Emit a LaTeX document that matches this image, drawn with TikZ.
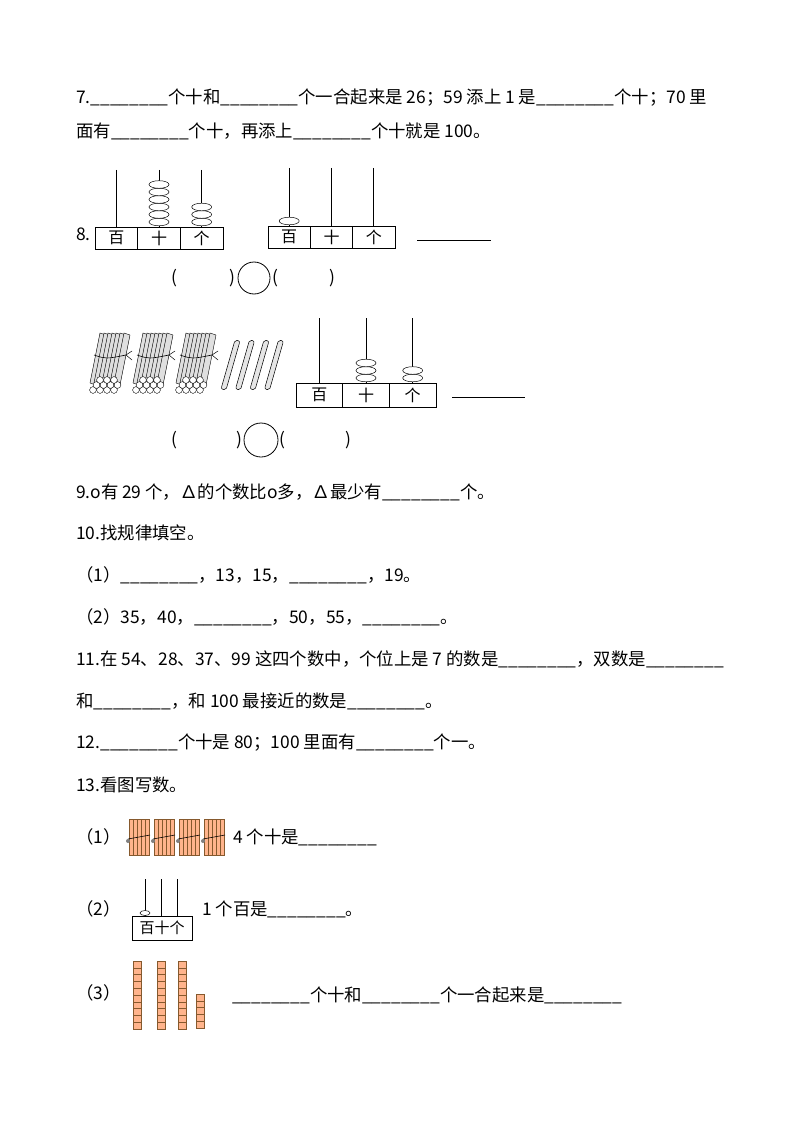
\documentclass[tikz,border=0pt]{standalone}
\usepackage{fontspec}
\setmainfont{Noto Sans CJK SC}
\begin{document}
\begin{tikzpicture}[x=1pt,y=-1pt,
  txt/.style={anchor=west,inner sep=0pt,font=\fontsize{17.4}{20}\selectfont},
  cell/.style={draw,minimum width=42pt,minimum height=22pt,inner sep=0pt,font=\fontsize{16}{18}\selectfont},
  bead/.style={draw,fill=white,line width=0.5pt},
  rod/.style={line width=0.7pt},
  orangestick/.style={draw=brown!70!black,fill=red!30!orange!45,line width=0.3pt}]
\useasboundingbox (0,0) rectangle (794,1123);
\fill[white] (0,0) rectangle (794,1123);
% question 7
\node[txt] (q7a) at (76,98) {7.\_\_\_\_\_\_\_\_个十和\_\_\_\_\_\_\_\_个一合起来是 26；59 添上 1 是\_\_\_\_\_\_\_\_个十；70 里};
\node[txt] (q7b) at (76,131) {面有\_\_\_\_\_\_\_\_个十，再添上\_\_\_\_\_\_\_\_个十就是 100。};
% question 8
\node[txt] (q8) at (76,234) {8.};
% abacus 1
\foreach \i/\t in {0/百,1/十,2/个}{\node[cell,minimum width=42.7pt] (a1\i) at (116.3+42.7*\i,238) {\t};}
\foreach \i in {0,1,2}{\draw[rod] (116.3+42.7*\i,170) -- (116.3+42.7*\i,227);}
\foreach \k in {0,...,5}{\draw[bead] (159,222-7.5*\k) ellipse (10pt and 3.8pt);}
\foreach \k in {0,...,2}{\draw[bead] (201.7,222-7.5*\k) ellipse (10pt and 3.8pt);}
% abacus 2
\foreach \i/\t in {0/百,1/十,2/个}{\node[cell,minimum width=42.3pt] (a2\i) at (289.2+42.3*\i,237) {\t};}
\foreach \i in {0,1,2}{\draw[rod] (289.2+42.3*\i,168) -- (289.2+42.3*\i,226);}
\draw[bead] (289.2,221) ellipse (10pt and 3.8pt);
\draw[line width=0.8pt] (417,240) -- (491,240);
% paren row 1
\node[txt] (p1) at (171,278) {(};
\node[txt] (p2) at (229,278) {)};
\node[draw,circle,minimum size=32pt,inner sep=0pt,line width=0.8pt] (c1) at (254,278) {};
\node[txt] (p3) at (272,278) {(};
\node[txt] (p4) at (329,278) {)};
% bundles
\foreach \b in {0,1,2}{
 \begin{scope}[shift={(88+43*\b,333)}]
  \foreach \s in {0,...,6}{\draw[fill=gray!25,line width=0.4pt] (12+4*\s,0) -- (18+4*\s,2) -- (8+4*\s,52) -- (2+4*\s,50) -- cycle;}
  \draw[line width=0.6pt] (6,22) .. controls (18,26) .. (38,22);
  \draw[line width=0.5pt] (38,22) -- (44,18) (38,22) -- (44,27);
  \foreach \r/\n in {0/4,1/4,2/3}{\foreach \c in {1,...,\n}{\draw[fill=white,line width=0.4pt] (-2+7*\c+3.5*\r,57-5*\r) circle (3.4pt);}}
 \end{scope}}
\foreach \s in {0,...,3}{\draw[fill=gray!20,line width=0.5pt,rounded corners=2pt] (235+14.5*\s,340) -- (240+14.5*\s,341) -- (226+14.5*\s,390) -- (221+14.5*\s,389) -- cycle;}
% abacus 3
\foreach \i/\t in {0/百,1/十,2/个}{\node[cell,minimum width=46.7pt,minimum height=24pt] (a3\i) at (319.3+46.7*\i,395) {\t};}
\foreach \i in {0,1,2}{\draw[rod] (319.3+46.7*\i,318) -- (319.3+46.7*\i,383);}
\foreach \k in {0,...,2}{\draw[bead] (366,378-7.5*\k) ellipse (10pt and 3.8pt);}
\foreach \k in {0,...,1}{\draw[bead] (412.7,378-7.5*\k) ellipse (10pt and 3.8pt);}
\draw[line width=0.8pt] (452,397) -- (525,397);
% paren row 2
\node[txt] (p5) at (171,440) {(};
\node[txt] (p6) at (236,440) {)};
\node[draw,circle,minimum size=34pt,inner sep=0pt,line width=0.8pt] (c2) at (261,440) {};
\node[txt] (p7) at (279,440) {(};
\node[txt] (p8) at (345,440) {)};
% question 9-12
\node[txt] (q9) at (76,492) {9.o有 29 个，∆的个数比o多，∆最少有\_\_\_\_\_\_\_\_个。};
\node[txt] (q10) at (76,533) {10.找规律填空。};
\node[txt] (q10a) at (76,575) {（1）\_\_\_\_\_\_\_\_，13，15，\_\_\_\_\_\_\_\_，19。};
\node[txt] (q10b) at (76,617) {（2）35，40，\_\_\_\_\_\_\_\_，50，55，\_\_\_\_\_\_\_\_。};
\node[txt] (q11a) at (76,659) {11.在 54、28、37、99 这四个数中，个位上是 7 的数是\_\_\_\_\_\_\_\_，双数是\_\_\_\_\_\_\_\_};
\node[txt] (q11b) at (76,701) {和\_\_\_\_\_\_\_\_，和 100 最接近的数是\_\_\_\_\_\_\_\_。};
\node[txt] (q12) at (76,743) {12.\_\_\_\_\_\_\_\_个十是 80；100 里面有\_\_\_\_\_\_\_\_个一。};
\node[txt] (q13) at (76,785) {13.看图写数。};
% 13 (1)
\node[txt] (q13a) at (76,837) {（1）};
\foreach \b in {0,...,3}{
 \begin{scope}[shift={(129+25*\b,819)}]
  \foreach \s in {0,...,4}{\draw[orangestick] (\s*4,0) rectangle (\s*4+4,36);}
  \draw[line width=0.6pt] (-1,20) -- (21,16);
  \fill[gray] (-1,22) circle (2pt);
 \end{scope}}
\node[txt] (q13a2) at (233,837) {4 个十是\_\_\_\_\_\_\_\_};
% 13 (2)
\node[txt] (q13b) at (76,909) {（2）};
\node[draw,minimum width=60pt,minimum height=24pt,inner sep=0pt,font=\fontsize{15}{16}\selectfont] (sab) at (162,928) {百十个};
\foreach \x in {145,161,177}{\draw[line width=0.6pt] (\x,879) -- (\x,916);}
\draw[bead] (145,913) ellipse (5pt and 2.5pt);
\node[txt] (q13b2) at (202,909) {1 个百是\_\_\_\_\_\_\_\_。};
% 13 (3)
\node[txt] (q13c) at (76,993) {（3）};
\foreach \x in {133,157,178}{\foreach \k in {0,...,9}{\draw[orangestick] (\x,961+6.8*\k) rectangle (\x+8,967.8+6.8*\k);}}
\foreach \k in {0,...,4}{\draw[orangestick] (196,994+6.8*\k) rectangle (204,1000.8+6.8*\k);}
\node[txt] (q13c2) at (232,995) {\_\_\_\_\_\_\_\_个十和\_\_\_\_\_\_\_\_个一合起来是\_\_\_\_\_\_\_\_};
\end{tikzpicture}
\end{document}
